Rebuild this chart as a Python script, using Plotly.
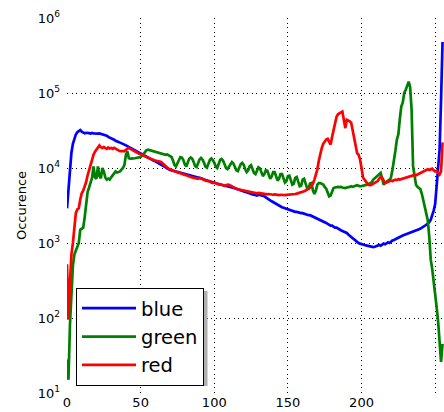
import plotly.graph_objects as go

bins = list(range(256))

blue = [
    2900, 5500, 10500, 16000, 21000, 25000, 28000, 30000, 31500, 32000,
    30500, 29500, 29000, 29500, 29000, 29200, 28800, 29300, 29000, 28800,
    29200, 28700, 28900, 28500, 28600, 28200, 27500, 27000, 26000, 25500,
    25000, 24200, 23800, 23000, 22800, 22200, 21800, 21500, 21000, 20500,
    20000, 19500, 19000, 18500, 18000, 17600, 17200, 16800, 16500, 16200,
    15800, 15200, 14800, 14300, 14000, 13600, 13300, 13000, 12700, 12500,
    12300, 12000, 11800, 11500, 11200, 10800, 10500, 10200, 9900, 9600,
    9400, 9300, 9200, 9000, 8900, 8800, 8700, 8600, 8500, 8400,
    8300, 8200, 8100, 8000, 7900, 7800, 7700, 7700, 7600, 7500,
    7400, 7300, 7200, 7000, 6900, 6800, 6700, 6600, 6500, 6400,
    6300, 6250, 6200, 6100, 6000, 5950, 5900, 5800, 5750, 5700,
    5600, 5550, 5500, 5400, 5350, 5300, 5200, 5100, 5050, 5000,
    4900, 4800, 4750, 4650, 4600, 4500, 4450, 4400, 4350, 4300,
    4400, 4350, 4300, 4250, 4200, 4050, 3900, 3800, 3700, 3600,
    3500, 3400, 3300, 3250, 3150, 3100, 3000, 2950, 2900, 2850,
    2800, 2750, 2700, 2700, 2650, 2600, 2600, 2550, 2550, 2500,
    2500, 2450, 2400, 2400, 2350, 2350, 2300, 2250, 2200, 2150,
    2150, 2100, 2050, 2000, 1950, 1900, 1850, 1800, 1750, 1700,
    1700, 1650, 1600, 1600, 1550, 1500, 1480, 1450, 1420, 1400,
    1360, 1300, 1250, 1200, 1150, 1100, 1050, 1020, 1000, 980,
    960, 950, 940, 930, 920, 900, 890, 900, 880, 890,
    900, 920, 940, 920, 950, 980, 960, 1000, 1020, 1000,
    1050, 1080, 1100, 1120, 1150, 1170, 1200, 1230, 1260, 1280,
    1300, 1320, 1340, 1360, 1380, 1400, 1420, 1450, 1480, 1520,
    1560, 1600, 1650, 1700, 1750, 1820, 1900, 2050, 2300, 2700,
    3300, 5500, 9500, 17500, 80000, 480000,
]

green = [
    28, 15, 80, 250, 500, 700, 780, 900, 1000, 1500,
    1550, 1600, 2200, 3600, 4800, 5500, 6500, 7400, 10500, 7500,
    7200, 10500, 7800, 7300, 10000, 9000, 7500, 7000, 7200, 7000,
    7500, 8000, 8500, 9000, 8700, 8900, 9000, 9500, 10000, 11000,
    15000, 16700, 13500, 13300, 13500, 13400, 13500, 13600, 13500, 13800,
    14000, 14500, 15500, 16500, 17300, 17500, 17300, 17000, 16800, 16500,
    16300, 16000, 15800, 15600, 15500, 15300, 15200, 15000, 15200, 14800,
    14500, 14000, 12500, 11000, 10500, 11500, 13000, 14000, 13800, 12800,
    11200, 10500, 11800, 13300, 13800, 13300, 12000, 10600, 10300, 11500,
    13000, 13600, 13000, 11800, 10400, 10100, 11300, 12800, 13400, 12800,
    11800, 10500, 10000, 11200, 12800, 13200, 12500, 11200, 10000, 9700,
    10500, 11500, 12000, 11500, 10300, 9300, 9100, 10000, 11300, 11700,
    11000, 9600, 8800, 9300, 10500, 10900, 9900, 8600, 8300, 9200,
    10200, 9900, 8600, 7800, 8300, 9300, 9200, 8000, 7200, 7700,
    8800, 8800, 7600, 6800, 7200, 8300, 8300, 7200, 6400, 6700,
    7800, 7900, 6900, 6000, 6200, 7400, 7600, 6600, 5700, 5800,
    7000, 7200, 6400, 5400, 5300, 6200, 6300, 5000, 4500, 5000,
    6000, 6300, 6300, 6200, 6000, 5600, 5300, 4700, 4200, 4300,
    5000, 5400, 5500, 5600, 5600, 5550, 5600, 5500, 5450, 5400,
    5500, 5500, 5600, 5700, 5600, 5700, 5800, 5900, 5800, 5700,
    5750, 5800, 5800, 5900, 6000, 6100, 6300, 6500, 7000, 7300,
    7500, 7800, 8300, 8600, 7200, 6000, 6300, 6600, 6800, 7000,
    7500, 9500, 12000, 17000, 24000, 28000, 45000, 66000, 75000, 100000,
    110000, 130000, 142000, 120000, 60000, 10500, 7500, 6000, 5600, 5400,
    5200, 4500, 3700, 3000, 2400, 2000, 1200, 600, 450, 320,
    220, 140, 90, 50, 26, 45,
]

red = [
    520, 95, 300, 700, 1000, 1800, 2500, 2800, 2900, 3800,
    4600, 5000, 5600, 6500, 8000, 9500, 10500, 13000, 15000, 16500,
    17500, 18500, 20000, 19000, 18500, 19000, 18500, 18000, 18800, 18200,
    18500, 18000, 18600, 18200, 18000, 17200, 16800, 16700, 16600, 16800,
    17500, 18200, 18500, 18000, 17500, 17000, 16500, 16200, 16000, 15500,
    15200, 14800, 14500, 14200, 14000, 13700, 13400, 13200, 13000, 12800,
    12600, 12400, 12300, 12200, 12000, 11500, 11000, 10500, 10000, 9800,
    9600, 9400, 9200, 9000, 8900, 8800, 8600, 8500, 8300, 8200,
    8100, 8000, 7800, 7700, 7600, 7500, 7400, 7300, 7300, 7200,
    7400, 7200, 7000, 6900, 6800, 6700, 6700, 6600, 6400, 6300,
    6400, 6300, 6200, 6000, 6100, 6000, 5900, 5800, 5900, 6000,
    5950, 5800, 5600, 5450, 5400, 5300, 5200, 5150, 5100, 5000,
    5000, 4900, 4850, 4800, 4800, 4750, 4700, 4700, 4650, 4600,
    4650, 4600, 4600, 4550, 4500, 4500, 4450, 4500, 4450, 4400,
    4400, 4450, 4400, 4380, 4350, 4400, 4350, 4300, 4350, 4380,
    4400, 4350, 4400, 4450, 4400, 4500, 4550, 4600, 4700, 4800,
    4850, 4900, 5000, 5100, 5300, 5500, 5800, 6200, 7000, 8200,
    9600, 12500, 16000, 18500, 21000, 23000, 24000, 24500, 22000, 20500,
    26000, 31000, 38000, 48000, 52000, 54000, 55000, 56500, 45000, 34000,
    44000, 43000, 42000, 40000, 32000, 24000, 19000, 15800, 15000, 13000,
    10000, 7500, 7000, 6500, 6200, 5950, 5900, 6000, 6200, 6400,
    6500, 6700, 7200, 7600, 7400, 6800, 6300, 6400, 6500, 6700,
    6800, 6700, 6900, 7000, 6900, 7100, 7000, 7100, 7200, 7300,
    7400, 7500, 7600, 7700, 7800, 8000, 8100, 8000, 8200, 8300,
    8500, 8700, 9000, 9200, 9400, 9600, 9400, 9500, 9800, 9300,
    9000, 9200, 8500, 8200, 9000, 22000,
]

series = [("blue", blue, "#0000ff"), ("green", green, "#008000"), ("red", red, "#ff0000")]

xticks = [0, 50, 100, 150, 200, 250]
yticks = [10, 100, 1000, 10000, 100000, 1000000]
ytick_text = ["10<sup>1</sup>", "10<sup>2</sup>", "10<sup>3</sup>",
              "10<sup>4</sup>", "10<sup>5</sup>", "10<sup>6</sup>"]

fig = go.Figure()
for i, (name, vals, col) in enumerate(series):
    fig.add_trace(go.Scatter(x=bins, y=vals, mode="lines", name=name,
                             line=dict(color=col, width=2.7)))

W, H = 444, 412
L, R, T, B = 67, 0, 18, 19
pw, ph = W - L - R, H - T - B

def px2paper(x, y):
    return (x - L) / pw, (H - B - y) / ph

# legend shadow (3 px offset behind the legend box)
sx0, sy0 = px2paper(79, 291)
sx1, sy1 = px2paper(207.5, 386)

fig.update_layout(
    width=W, height=H,
    margin=dict(l=L, r=R, t=T, b=B, autoexpand=False),
    paper_bgcolor="white", plot_bgcolor="white",
    font=dict(family="DejaVu Sans", size=13, color="black"),
    showlegend=True,
    legend=dict(x=px2paper(76, 0)[0], y=px2paper(0, 288)[1],
                xanchor="left", yanchor="top",
                bgcolor="white", bordercolor="black", borderwidth=1,
                font=dict(size=19.5), itemwidth=54,
                traceorder="normal", tracegroupgap=0),
    shapes=[dict(type="rect", xref="paper", yref="paper",
                 x0=sx0, x1=sx1, y0=sy1, y1=sy0,
                 fillcolor="#b0b0b0", line=dict(width=0), layer="above")],
    xaxis=dict(range=[0, 256], tickvals=xticks, showgrid=True,
               gridcolor="black", gridwidth=1, griddash="1px,3.5px",
               zeroline=False, showline=False, ticks="", automargin=False,
               tickfont=dict(size=13)),
    yaxis=dict(type="log", range=[1, 6], tickvals=yticks, ticktext=ytick_text,
               showgrid=True, gridcolor="black", gridwidth=1, griddash="1px,3.5px",
               zeroline=False, showline=False, ticks="", automargin=False,
               ticklabelstandoff=6,
               title=dict(text="Occurence", font=dict(size=13), standoff=8),
               tickfont=dict(size=13)),
)

fig.write_html("out.html")
